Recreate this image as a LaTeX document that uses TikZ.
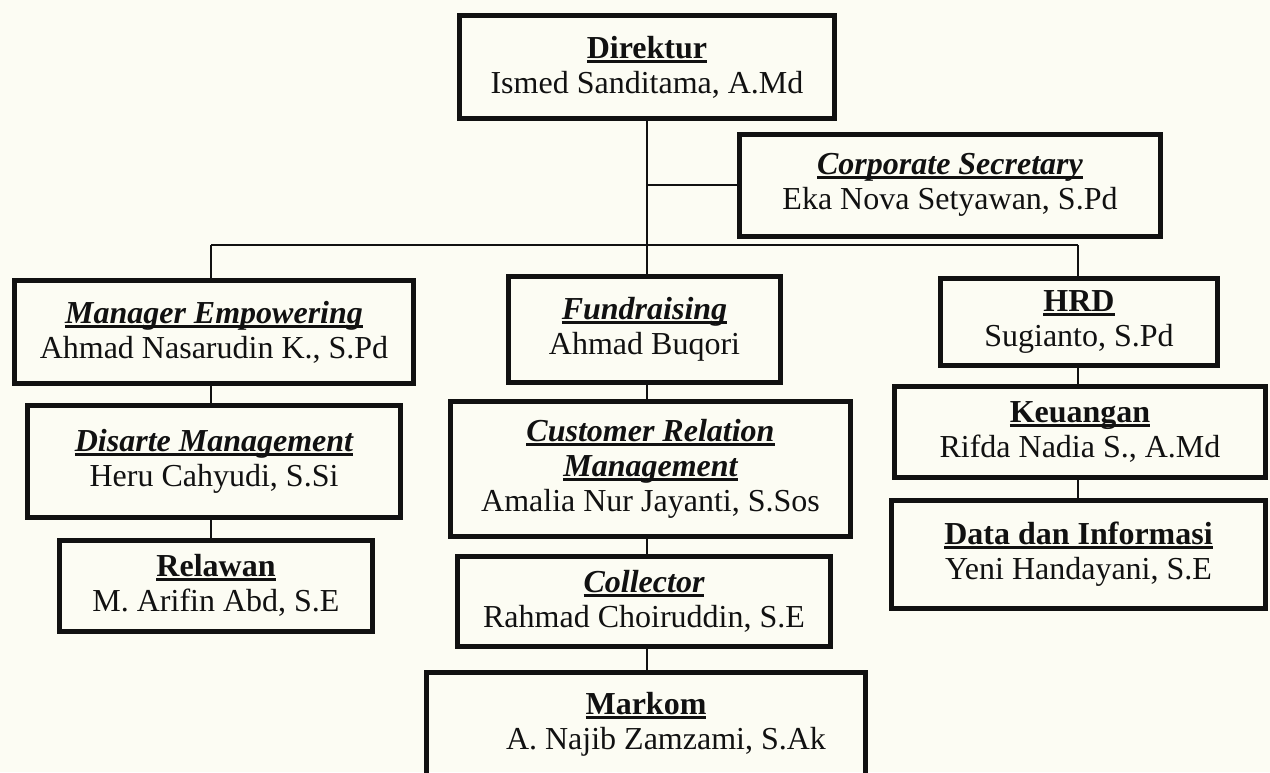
\documentclass[tikz,border=0pt]{standalone}
\usepackage{fontspec}
\setmainfont{Liberation Serif}
\usetikzlibrary{calc}
\definecolor{paper}{HTML}{FCFCF3}
\definecolor{ink}{HTML}{111111}
% underlined unit titles
\newcommand\ulttl[1]{\setbox0=\hbox{#1}\rlap{\rule[-4.5pt]{\wd0}{3pt}}\box0}
\newcommand\hd[1]{\ulttl{\bfseries #1}}
\newcommand\hdi[1]{\ulttl{\bfseries\itshape #1}}
\tikzset{
  unit/.style={draw=ink, line width=5pt, align=center, inner sep=0pt,
    text=ink, font=\fontsize{32}{35}\selectfont},
  link/.style={draw=ink, line width=2.2pt}
}
\begin{document}
\begin{tikzpicture}[x=1pt,y=-1pt]
  \fill[paper] (0,0) rectangle (1270,772);
  \useasboundingbox (0,0) rectangle (1270,772);
  \clip (0,0) rectangle (1270,772);

  % column axes and the distribution bus
  \coordinate (lx) at (211,0);
  \coordinate (cx) at (647,0);
  \coordinate (rx) at (1078,0);
  \coordinate (bus) at (0,245);

  % units
  \node[unit, minimum width=375pt, minimum height=103pt] (dir) at (647,67)
    {\hd{Direktur}\\Ismed Sanditama, A.Md};
  \node[unit, minimum width=421pt, minimum height=102pt] (corp) at (950,185)
    {\hdi{Corporate Secretary}\\Eka Nova Setyawan, S.Pd};

  \node[unit, minimum width=399pt, minimum height=103pt] (mgr) at (214,332)
    {\hdi{Manager Empowering}\\Ahmad Nasarudin K., S.Pd};
  \node[unit, minimum width=373pt, minimum height=112pt] (dis) at (214,461)
    {\hdi{Disarte Management}\\Heru Cahyudi, S.Si};
  \node[unit, minimum width=313pt, minimum height=91pt] (rel) at (216,585.5)
    {\hd{Relawan}\\M. Arifin Abd, S.E};

  \node[unit, minimum width=272pt, minimum height=106pt] (fund) at (644.5,329)
    {\hdi{Fundraising}\\Ahmad Buqori};
  \node[unit, minimum width=400pt, minimum height=135pt] (crm) at (650.5,468.5)
    {\hdi{Customer Relation}\\\hdi{Management}\\Amalia Nur Jayanti, S.Sos};
  \node[unit, minimum width=373pt, minimum height=90pt] (col) at (644,601)
    {\hdi{Collector}\\Rahmad Choiruddin, S.E};
  \node[unit, minimum width=439pt, minimum height=105pt] (mark) at (646,724.5)
    {\hd{Markom}\\\hspace*{40pt}A. Najib Zamzami, S.Ak};

  \node[unit, minimum width=277pt, minimum height=87pt] (hrd) at (1079,321.5)
    {\hd{HRD}\\Sugianto, S.Pd};
  \node[unit, minimum width=371pt, minimum height=91pt] (keu) at (1080,431.5)
    {\hd{Keuangan}\\Rifda Nadia S., A.Md};
  \node[unit, minimum width=374pt, minimum height=108pt] (data) at (1078.5,554)
    {\hd{Data dan Informasi}\\Yeni Handayani, S.E};

  % reporting lines
  \draw[link] (dir.south -| cx) -- (fund.north -| cx);
  \draw[link] (corp.west -| cx) -- (corp.west);
  \draw[link] (lx |- bus) -- (rx |- bus);
  \draw[link] (lx |- bus) -- (mgr.north -| lx);
  \draw[link] (rx |- bus) -- (hrd.north -| rx);

  \draw[link] (mgr.south -| lx) -- (dis.north -| lx);
  \draw[link] (dis.south -| lx) -- (rel.north -| lx);

  \draw[link] (fund.south -| cx) -- (crm.north -| cx);
  \draw[link] (crm.south -| cx) -- (col.north -| cx);
  \draw[link] (col.south -| cx) -- (mark.north -| cx);

  \draw[link] (hrd.south -| rx) -- (keu.north -| rx);
  \draw[link] (keu.south -| rx) -- (data.north -| rx);
\end{tikzpicture}
\end{document}
